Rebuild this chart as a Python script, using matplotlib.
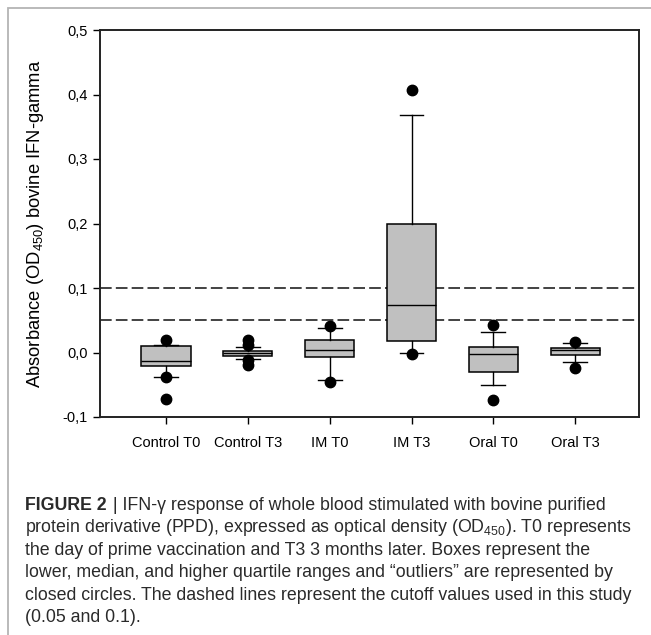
import matplotlib
matplotlib.use('Agg')
import matplotlib.pyplot as plt
from matplotlib.patches import Rectangle
from matplotlib.ticker import FuncFormatter

plt.rcParams['font.family'] = ['Liberation Sans', 'DejaVu Sans']
plt.rcParams['mathtext.fontset'] = 'custom'
plt.rcParams['mathtext.rm'] = 'Liberation Sans'
plt.rcParams['mathtext.it'] = 'Liberation Sans:italic'
plt.rcParams['mathtext.bf'] = 'Liberation Sans:bold'

# box statistics
groups = ['Control T0', 'Control T3', 'IM T0', 'IM T3', 'Oral T0', 'Oral T3']
q1 = [-0.0216, -0.006, -0.007, 0.0172, -0.0304, -0.0035]
med = [-0.0128, 0.0, 0.0043, 0.073, -0.002, 0.0033]
q3 = [0.0094, 0.003, 0.0188, 0.1995, 0.0084, 0.0063]
whislo = [-0.038, -0.0097, -0.043, 0.0, -0.051, -0.0149]
whishi = [0.012, 0.0084, 0.038, 0.368, 0.032, 0.0146]
fliers = [[0.019, -0.038, -0.0715],
          [0.0198, 0.012, -0.012, -0.019],
          [0.0415, -0.045],
          [0.407, -0.0025],
          [0.043, -0.074],
          [0.0167, -0.0237]]
cutoffs = [0.05, 0.1]

caption = [
    'protein derivative (PPD), expressed as optical density (OD$_{450}$). T0 represents',
    'the day of prime vaccination and T3 3 months later. Boxes represent the',
    'lower, median, and higher quartile ranges and \u201coutliers\u201d are represented by',
    'closed circles. The dashed lines represent the cutoff values used in this study',
    '(0.05 and 0.1).',
]

stats = []
for i in range(len(groups)):
    stats.append(dict(label=groups[i], q1=q1[i], med=med[i], q3=q3[i],
                      whislo=whislo[i], whishi=whishi[i], fliers=fliers[i]))

W, H = 651, 635
fig = plt.figure(figsize=(W / 100, H / 100), dpi=100)

# outer frame around figure + caption
fig.add_artist(Rectangle((8 / W, -0.1), 1.2, 1.1 - 8 / H, transform=fig.transFigure,
                         fill=False, edgecolor='#b4b4b4', linewidth=1.3))

ax = fig.add_axes([100 / W, 1 - 417 / H, 539 / W, 387 / H])
ax.bxp(stats, positions=range(1, len(groups) + 1), widths=0.6, capwidths=0.29,
       patch_artist=True,
       boxprops=dict(facecolor='#c0c0c0', edgecolor='black', linewidth=1.1),
       medianprops=dict(color='black', linewidth=1.0),
       whiskerprops=dict(color='black', linewidth=1.0),
       capprops=dict(color='black', linewidth=1.0),
       flierprops=dict(marker='o', markerfacecolor='black', markeredgecolor='black',
                       markersize=7.5, linestyle='none'))

for c in cutoffs:
    ax.axhline(c, color='#222222', linewidth=1.2, linestyle=(0, (7, 2.5)), zorder=0.5)

ax.set_xlim(0.193, 6.78)
ax.set_ylim(-0.1, 0.5)
ax.set_yticks([-0.1, 0.0, 0.1, 0.2, 0.3, 0.4, 0.5])
ax.yaxis.set_major_formatter(FuncFormatter(lambda v, p: ('%.1f' % v).replace('.', ',')))
ax.set_xticks(range(1, len(groups) + 1))
ax.set_xticklabels(groups)
ax.tick_params(direction='out', length=5, width=1.0, labelsize=10.5, pad=9)
ax.tick_params(axis='y', pad=4)
for s in ax.spines.values():
    s.set_linewidth(1.4)
    s.set_color('#222222')
ax.set_ylabel('Absorbance (OD$_{450}$) bovine IFN-gamma', fontsize=13.2)
ax.yaxis.set_label_coords(-0.1, 0.5)

# caption
x0 = 25 / W
base = [510, 532, 555, 577, 600, 622]
capfont = dict(fontsize=12.8, color='#2a2a2a')
t = fig.text(x0, 1 - base[0] / H, 'FIGURE 2', fontweight='bold', va='baseline', **capfont)
fig.canvas.draw()
bb = t.get_window_extent()
fig.text(bb.x1 / W + 0.002, 1 - base[0] / H,
         ' | IFN-\u03b3 response of whole blood stimulated with bovine purified',
         va='baseline', **capfont)
for line, b in zip(caption, base[1:]):
    fig.text(x0, 1 - b / H, line, va='baseline', **capfont)

fig.savefig('out.png', dpi=100)
